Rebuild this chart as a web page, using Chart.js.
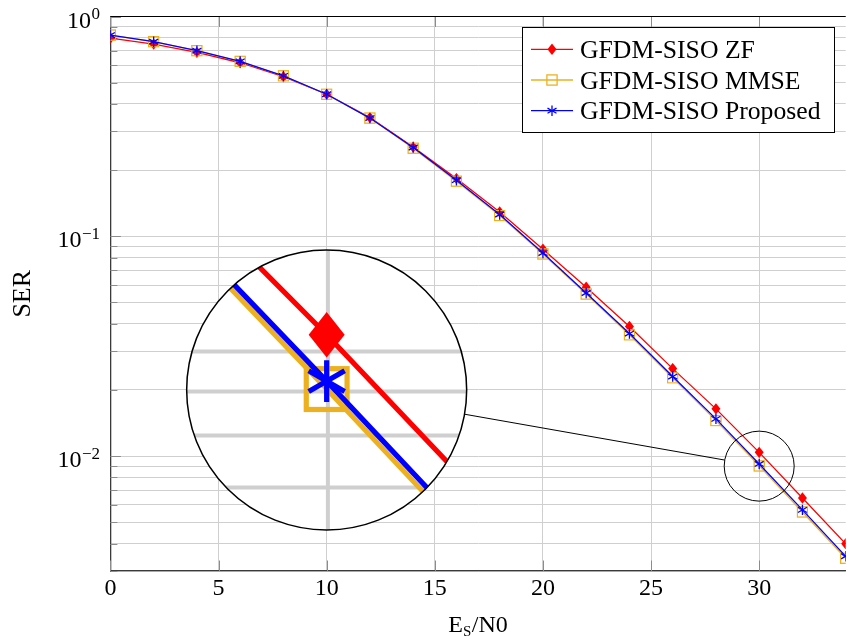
<!DOCTYPE html>
<html><head><meta charset="utf-8">
<script src="https://cdn.jsdelivr.net/npm/chart.js@4.4.1/dist/chart.umd.min.js"></script>
<style>
html,body{margin:0;padding:0;overflow:hidden;background:#fff;}
#wrap{position:relative;width:852px;height:639px;}
</style></head><body>
<div id="wrap"><canvas id="c"></canvas></div>
<script>
// ---------- data ----------
const snr = [0,2,4,6,8,10,12,14,16,18,20,22,24,26,28,30,32,34];
const serZF = [0.798,0.749,0.687,0.616,0.532,0.443,0.347,0.255,0.183,0.129,0.0873,0.0587,0.0389,0.0250,0.0164,0.0104,0.00645,0.00399];
const serMMSE = [0.823,0.768,0.699,0.625,0.537,0.443,0.345,0.2517,0.1782,0.1243,0.0831,0.0546,0.0356,0.0227,0.0145,0.00902,0.00557,0.00343];
const serProposed = [0.823,0.768,0.699,0.625,0.537,0.443,0.345,0.2535,0.180,0.1256,0.0839,0.0552,0.0361,0.0230,0.01477,0.00921,0.00569,0.00350];
const seriesNames = ['GFDM-SISO ZF','GFDM-SISO MMSE','GFDM-SISO Proposed'];
const xTicks = [0,5,10,15,20,25,30];
const yDecades = [1,0.1,0.01];
const yDecadeExp = ['0','\u22121','\u22122'];
const xRange = [0,34];
const yRange = [0.003,1];
const spySource = [30,0.009];
const spyTarget = [10,0.02];

// ---------- styles ----------
const FONT = '"Liberation Serif","Times New Roman",serif';
const RED = '#ff0000', ORANGE = '#edb120', BLUE = '#0000ff';
const GRID = '#cfcfcf';

function svgImg(w,h,body){
  const img = new Image(w,h);
  img.src = 'data:image/svg+xml;charset=utf-8,' + encodeURIComponent(
    '<svg xmlns="http://www.w3.org/2000/svg" width="'+w+'" height="'+h+'" viewBox="0 0 '+w+' '+h+'">'+body+'</svg>');
  return img;
}
const mkDiamond = svgImg(10,12,'<path d="M5 0.3 L9.5 6 L5 11.7 L0.5 6 Z" fill="'+RED+'"/>');
const mkSquare = svgImg(12,12,'<rect x="0.9" y="0.9" width="10.2" height="10.2" fill="none" stroke="'+ORANGE+'" stroke-width="1.3"/>');
const mkStar = svgImg(12,12,'<g stroke="'+BLUE+'" stroke-width="1.3"><line x1="6" y1="0.8" x2="6" y2="11.2"/><line x1="1.5" y1="3.4" x2="10.5" y2="8.6"/><line x1="1.5" y1="8.6" x2="10.5" y2="3.4"/></g>');
const markers = [mkDiamond, mkSquare, mkStar];
const colors = [RED, ORANGE, BLUE];

const yGrid = [];
for (let e = -3; e <= 0; e++) for (let k = 1; k <= 9; k++) {
  const v = +(k*Math.pow(10,e)).toPrecision(3);
  if (v >= yRange[0]-1e-12 && v <= yRange[1]+1e-12) yGrid.push(v);
}
const isDecade = v => Math.abs(Math.log10(v) - Math.round(Math.log10(v))) < 1e-9;

const decorBelow = {
  id:'decorBelow',
  beforeDatasetsDraw(chart){
    const {ctx, chartArea:a, scales:{x,y}} = chart;
    ctx.save();
    ctx.strokeStyle = '#8c8c8c'; ctx.lineWidth = 1;
    yGrid.forEach(v => {
      const py = Math.round(y.getPixelForValue(v)) + 0.5;
      const L = isDecade(v) ? 10.5 : 7;
      ctx.beginPath(); ctx.moveTo(a.left, py); ctx.lineTo(a.left+L, py); ctx.stroke();
    });
    xTicks.forEach(v => {
      const px = Math.round(x.getPixelForValue(v)) + 0.5;
      ctx.beginPath(); ctx.moveTo(px, a.bottom); ctx.lineTo(px, a.bottom-10.5); ctx.stroke();
      ctx.beginPath(); ctx.moveTo(px, a.top); ctx.lineTo(px, a.top+10.5); ctx.stroke();
    });
    ctx.restore();
  }
};

const decor = {
  id:'decor',
  afterDraw(chart){
    const {ctx, chartArea:a, scales:{x,y}} = chart;
    ctx.save();
    // top border
    ctx.strokeStyle = '#000'; ctx.lineWidth = 1.2;
    ctx.beginPath(); ctx.moveTo(a.left, a.top); ctx.lineTo(a.right, a.top); ctx.stroke();

    // y tick labels 10^n
    ctx.fillStyle = '#000'; ctx.textAlign = 'right'; ctx.textBaseline = 'alphabetic';
    yDecades.forEach((v,i) => {
      const py = y.getPixelForValue(v);
      ctx.font = '17px ' + FONT;
      const ew = ctx.measureText(yDecadeExp[i]).width;
      ctx.fillText(yDecadeExp[i], 100, py + 2.8);
      ctx.font = '24px ' + FONT;
      ctx.fillText('10', 100 - ew - 0.5, py + 11);
    });

    // x title  E_S/N0
    ctx.textAlign = 'left';
    ctx.font = '24px ' + FONT; const wE = ctx.measureText('E').width; const wN = ctx.measureText('/N0').width;
    ctx.font = '15px ' + FONT; const wS = ctx.measureText('S').width;
    const tot = wE + wS + 0.5 + wN;
    let tx = (a.left + a.right)/2 - tot/2;
    ctx.font = '24px ' + FONT; ctx.fillText('E', tx, 632);
    ctx.font = '15px ' + FONT; ctx.fillText('S', tx + wE, 635.5);
    ctx.font = '24px ' + FONT; ctx.fillText('/N0', tx + wE + wS + 0.5, 632);

    // y title
    ctx.save();
    ctx.translate(23, (a.top + a.bottom)/2);
    ctx.rotate(-Math.PI/2);
    ctx.textAlign = 'center'; ctx.textBaseline = 'middle';
    ctx.font = '26px ' + FONT; ctx.fillText('SER', 0, 0);
    ctx.restore();

    // legend
    const lg = {x:522.5, y:27.5, w:312, h:105};
    ctx.fillStyle = '#fff'; ctx.fillRect(lg.x, lg.y, lg.w, lg.h);
    ctx.strokeStyle = '#000'; ctx.lineWidth = 1; ctx.strokeRect(lg.x, lg.y, lg.w, lg.h);
    const rows = [49.3, 80, 110.7];
    seriesNames.forEach((name,i) => {
      const ry = rows[i];
      ctx.strokeStyle = colors[i]; ctx.lineWidth = 1.3;
      ctx.beginPath(); ctx.moveTo(531, ry); ctx.lineTo(573, ry); ctx.stroke();
      const m = markers[i];
      ctx.drawImage(m, 552 - m.width/2, ry - m.height/2, m.width, m.height);
      ctx.fillStyle = '#000'; ctx.textAlign = 'left'; ctx.textBaseline = 'alphabetic';
      ctx.font = '25.7px ' + FONT; ctx.fillText(name, 580, ry + 8.6);
    });
    ctx.restore();

    // spy (magnifier)
    const sx = x.getPixelForValue(spySource[0]), sy = y.getPixelForValue(spySource[1]);
    const bx = x.getPixelForValue(spyTarget[0]), by = y.getPixelForValue(spyTarget[1]);
    const r = 35, mag = 4, R = r*mag;
    ctx.save();
    ctx.beginPath(); ctx.arc(bx, by, R, 0, Math.PI*2); ctx.clip();
    ctx.fillStyle = '#fff'; ctx.fillRect(bx-R-2, by-R-2, 2*R+4, 2*R+4);
    ctx.translate(bx, by); ctx.scale(mag, mag); ctx.translate(-sx, -sy);
    x.drawGrid(a); y.drawGrid(a);
    const metas = chart.getSortedVisibleDatasetMetas();
    for (let i = metas.length-1; i >= 0; i--) metas[i].controller.draw();
    ctx.restore();
    ctx.save();
    ctx.strokeStyle = '#000';
    ctx.lineWidth = 1.5; ctx.beginPath(); ctx.arc(bx, by, R, 0, Math.PI*2); ctx.stroke();
    ctx.lineWidth = 1; ctx.beginPath(); ctx.arc(sx, sy, r, 0, Math.PI*2); ctx.stroke();
    const ang = Math.atan2(sy-by, sx-bx);
    ctx.beginPath();
    ctx.moveTo(bx + R*Math.cos(ang), by + R*Math.sin(ang));
    ctx.lineTo(sx - r*Math.cos(ang), sy - r*Math.sin(ang));
    ctx.stroke();
    ctx.restore();
  }
};

function ds(i, vals, order){
  return {
    label: seriesNames[i],
    data: snr.map((xv,k) => ({x:xv, y:vals[k]})),
    borderColor: colors[i], backgroundColor: colors[i],
    borderWidth: 1.3, pointStyle: markers[i], pointRadius: 5,
    tension: 0, fill: false, order: order
  };
}

function build(){
  new Chart(document.getElementById('c'), {
    type:'line',
    data:{ datasets:[ ds(0, serZF, 3), ds(1, serMMSE, 2), ds(2, serProposed, 1) ] },
    options:{
      animation:false, responsive:true, maintainAspectRatio:false, events:[],
      layout:{padding:{top:16.5, right:1.6, left:0, bottom:0}},
      plugins:{legend:{display:false}, tooltip:{enabled:false}},
      scales:{
        x:{ type:'linear', min:xRange[0], max:xRange[1],
            afterBuildTicks(s){ s.ticks = xTicks.map(v => ({value:v})); },
            afterFit(s){ s.height = 68; },
            grid:{color:GRID, lineWidth:1, drawTicks:false},
            border:{display:true, color:'#3a3a3a', width:1.3},
            ticks:{color:'#000', font:{family:FONT, size:24}, padding:3, maxRotation:0, autoSkip:false} },
        y:{ type:'logarithmic', min:yRange[0], max:yRange[1],
            afterBuildTicks(s){ s.ticks = yGrid.map(v => ({value:v})); },
            afterFit(s){ s.width = 110.4; },
            grid:{color:GRID, lineWidth:1, drawTicks:false},
            border:{display:true, color:'#3a3a3a', width:1.3},
            ticks:{display:false} }
      }
    },
    plugins:[decorBelow, decor]
  });
}
Promise.all(markers.map(m => m.decode ? m.decode().catch(()=>{}) : Promise.resolve())).then(build);
</script>
</body></html>
